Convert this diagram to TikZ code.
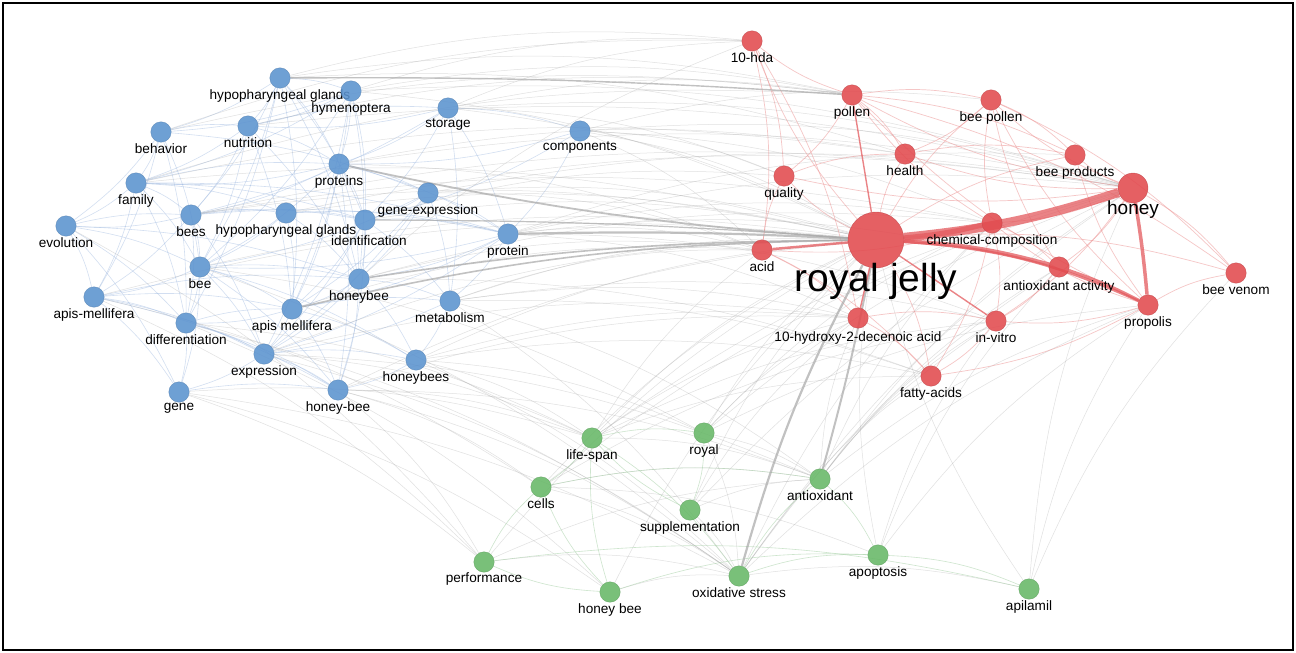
\documentclass[tikz,border=0pt]{standalone}
\usepackage{fontspec}
\setmainfont{Liberation Sans}
\usetikzlibrary{backgrounds}
\definecolor{nb}{HTML}{5B93CF}
\definecolor{nr}{HTML}{E24A4E}
\definecolor{ng}{HTML}{67B867}
\definecolor{eb}{HTML}{9DB8E0}
\definecolor{er}{HTML}{EC8E8E}
\definecolor{ert}{HTML}{E45A5E}
\definecolor{eg}{HTML}{A8A8A8}
\definecolor{egr}{HTML}{9CCB9C}
\begin{document}
\begin{tikzpicture}[x=1pt,y=-1pt,
  kw/.style={circle,inner sep=0pt,minimum size=20.5pt,fill opacity=0.88,draw opacity=0.6,line width=0.4pt},
  kb/.style={kw,fill=nb,draw=nb!80!black},
  kr/.style={kw,fill=nr,draw=nr!80!black},
  kg/.style={kw,fill=ng,draw=ng!80!black},
  lab/.style={font=\fontsize{13.6}{13.6}\selectfont,inner sep=0pt,text=black,text opacity=1,fill opacity=0},
  every label/.style={lab},
  label distance=0.5pt,
  ebl/.style={draw=eb,line width=0.6pt,draw opacity=0.45},
  erl/.style={draw=er,line width=0.7pt,draw opacity=0.5},
  egl/.style={draw=eg,line width=0.5pt,draw opacity=0.35},
  egg/.style={draw=egr,line width=0.6pt,draw opacity=0.5},
  thk/.style={line width=#1,draw opacity=0.7},
  thr/.style={draw=ert,line width=#1,draw opacity=0.75},
]
\useasboundingbox (0,0) rectangle (1296,653);
% blue cluster
\node[kb,label=below:hypopharyngeal glands] (hgA) at (280,78) {};
\node[kb,label=below:hymenoptera] (hym) at (351,91) {};
\node[kb,label=below:storage] (stor) at (448,108) {};
\node[kb,label=below:components] (comp) at (580,131) {};
\node[kb,label=below:behavior] (behav) at (161,132) {};
\node[kb,label=below:nutrition] (nutr) at (248,126) {};
\node[kb,label=below:proteins] (prots) at (339,164) {};
\node[kb,label=below:family] (fam) at (136,183) {};
\node[kb,label=below:gene-expression] (gexp) at (428,193) {};
\node[kb,label=below:bees] (bees) at (191,215) {};
\node[kb,label=below:hypopharyngeal glands] (hgB) at (286,213) {};
\node[kb,label={[label distance=5pt,xshift=4pt]below:identification}] (ident) at (365,220) {};
\node[kb,label=below:evolution] (evol) at (66,226) {};
\node[kb,label=below:protein] (prot) at (508,234) {};
\node[kb,label=below:bee] (bee) at (200,267) {};
\node[kb,label=below:honeybee] (hbee) at (359,279) {};
\node[kb,label=below:apis-mellifera] (amA) at (94,297) {};
\node[kb,label=below:apis mellifera] (amB) at (292,309) {};
\node[kb,label=below:metabolism] (metab) at (450,301) {};
\node[kb,label=below:differentiation] (diff) at (186,323) {};
\node[kb,label=below:expression] (expr) at (264,354) {};
\node[kb,label=below:honeybees] (hbees) at (416,360) {};
\node[kb,label=below:gene] (gene) at (179,392) {};
\node[kb,label=below:honey-bee] (hbh) at (338,390) {};
% red cluster
\node[kr,label=below:10-hda] (hda) at (752,41) {};
\node[kr,label=below:pollen] (pollen) at (852,95) {};
\node[kr,label=below:bee pollen] (bpol) at (991,100) {};
\node[kr,label=below:health] (health) at (905,154) {};
\node[kr,label=below:bee products] (bprod) at (1075,155) {};
\node[kr,label=below:quality] (qual) at (784,176) {};
\node[kr,minimum size=30pt] (honey) at (1133,188) {};
\node[lab,font=\fontsize{19}{19}\selectfont] (honeylab) at (1133,210) {honey};
\node[kr,label=below:chemical-composition] (chem) at (992,223) {};
\node[kr,minimum size=56pt] (rj) at (876,240) {};
\node[lab,font=\fontsize{39}{39}\selectfont] (rjlab) at (876,281) {royal jelly};
\node[kr,label=below:acid] (acid) at (762,250) {};
\node[kr,label={[label distance=3pt]below:antioxidant activity}] (aoa) at (1059,267) {};
\node[kr,label=below:bee venom] (bven) at (1236,273) {};
\node[kr,label=below:propolis] (prop) at (1148,305) {};
\node[kr,label={[label distance=3pt]below:10-hydroxy-2-decenoic acid}] (hda2) at (858,318) {};
\node[kr,label=below:in-vitro] (invit) at (996,321) {};
\node[kr,label=below:fatty-acids] (fatty) at (931,376) {};
% green cluster
\node[kg,label=below:life-span] (lspan) at (592,438) {};
\node[kg,label=below:royal] (royal) at (704,433) {};
\node[kg,label=below:antioxidant] (antiox) at (820,479) {};
\node[kg,label=below:cells] (cells) at (541,487) {};
\node[kg,label=below:supplementation] (suppl) at (690,510) {};
\node[kg,label=below:performance] (perf) at (484,562) {};
\node[kg,label=below:honey bee] (hb) at (610,592) {};
\node[kg,label=below:oxidative stress] (ox) at (739,576) {};
\node[kg,label=below:apoptosis] (apop) at (878,555) {};
\node[kg,label=below:apilamil] (apil) at (1029,589) {};

\begin{scope}[on background layer]
\fill[white] (0,0) rectangle (1296,653);
% blue internal
\foreach \a/\b in {hgA/hym,hgA/nutr,hgA/behav,hgA/bees,hgA/bee,hgA/ident,hgA/hbee,hgA/prots,hgA/amB,hgA/diff,
 hym/prots,hym/nutr,hym/ident,hym/bee,hym/hbee,hym/fam,hym/behav,hym/amB,hym/expr,
 stor/prots,stor/prot,stor/comp,stor/ident,stor/metab,stor/nutr,stor/bees,
 comp/prot,comp/prots,comp/ident,
 behav/nutr,behav/fam,behav/bee,behav/diff,behav/evol,behav/amA,behav/gexp,
 nutr/bees,nutr/prots,nutr/fam,nutr/bee,nutr/hbee,nutr/amB,nutr/stor,
 prots/gexp,prots/ident,prots/fam,prots/bees,prots/hbee,prots/prot,prots/bee,prots/amB,prots/hbh,
 fam/evol,fam/bees,fam/bee,fam/amA,fam/ident,fam/hgB,fam/diff,fam/prot,fam/prots,
 gexp/ident,gexp/prot,gexp/hbee,gexp/metab,gexp/bee,gexp/amB,gexp/expr,
 bees/hgB,bees/ident,bees/prot,bees/bee,bees/evol,bees/amA,bees/diff,bees/expr,
 hgB/ident,hgB/prot,hgB/bee,hgB/hbee,hgB/amB,
 ident/prot,ident/hbee,ident/amB,ident/metab,ident/expr,ident/hbh,
 evol/amA,evol/bee,evol/diff,evol/gene,evol/bees,evol/hbee,
 prot/hbee,prot/amB,prot/metab,prot/bee,prot/expr,
 bee/hbee,bee/amA,bee/diff,bee/expr,bee/amB,bee/gene,bee/hbees,bee/hbh,
 hbee/amB,hbee/metab,hbee/expr,hbee/hbees,hbee/hbh,
 amA/diff,amA/gene,amA/expr,amA/amB,amA/hbee,amA/hbh,
 amB/expr,amB/metab,amB/diff,amB/hbees,amB/hbh,
 metab/hbees,metab/expr,diff/expr,diff/gene,diff/hbh,diff/amB,
 expr/hbees,expr/hbh,expr/gene,hbees/hbh,gene/hbh}
 \draw[ebl] (\a) to[bend left=8] (\b);
% grey cross edges
\foreach \a/\b in {hym/pollen,hym/rj,stor/rj,stor/pollen,stor/honey,comp/rj,comp/honey,comp/chem,
 prots/honey,gexp/rj,prot/honey,prot/acid,ident/rj,hgB/rj,bees/rj,fam/rj,bee/rj,amA/rj,
 metab/rj,metab/antiox,metab/ox,expr/rj,hbees/rj,hbees/ox,hbh/rj,hbh/ox,gene/ox,diff/lspan,
 gene/lspan,hbh/lspan,hbh/cells,amA/cells,expr/lspan,hbees/lspan,hbees/royal,evol/perf,amA/perf,
 hbee/hda,hgA/hda,behav/hda,nutr/pollen,prots/health,prot/bprod,ident/qual,hgB/honey,bees/honey,
 fam/health,prot/hda2,metab/hda2,hbee/fatty,expr/antiox,gene/hb,diff/hb,bee/royal,bee/ox,
 lspan/rj,lspan/antiox,royal/rj,royal/antiox,royal/ox,cells/rj,cells/antiox,cells/ox,suppl/rj,
 suppl/ox,suppl/antiox,perf/ox,perf/rj,perf/antiox,hb/ox,hb/rj,ox/apil,ox/prop,ox/aoa,ox/invit,
 ox/chem,ox/honey,antiox/aoa,antiox/invit,antiox/prop,antiox/honey,antiox/chem,antiox/fatty,
 antiox/hda2,apop/rj,apop/invit,apop/prop,apop/aoa,apil/prop,apil/bven,apil/honey,apil/rj,
 lspan/hda2,royal/hda2,cells/invit,comp/bpol,stor/hda,hym/hda,hgA/pollen,
 comp/acid,comp/qual,stor/qual,prots/acid,gexp/acid,gexp/honey,prot/chem,prot/aoa,prot/invit,
 hbee/acid,hbee/chem,amB/acid,metab/acid,metab/invit,metab/fatty,hbees/hda2,hbees/fatty,
 expr/hda2,hbh/hda2,hbh/antiox,lspan/acid,lspan/honey,royal/honey,royal/chem,cells/honey,
 suppl/honey,suppl/hda2,lspan/fatty,hgA/health,hym/honey,nutr/honey,behav/pollen,fam/pollen,
 bees/chem,expr/ox,diff/ox,gene/perf,hbh/perf,cells/apop,lspan/invit,royal/prop}
 \draw[egl] (\a) to[bend left=10] (\b);
% green internal
\foreach \a/\b in {ox/antiox,ox/apop,antiox/apop,apop/apil,hb/lspan,hb/cells,hb/perf,perf/cells,
 lspan/cells,lspan/ox,royal/suppl,suppl/lspan,cells/antiox,perf/apil,hb/apop,lspan/royal}
 \draw[egg] (\a) to[bend left=10] (\b);
% red internal
\foreach \a/\b in {rj/fatty,rj/qual,rj/health,rj/bpol,rj/bprod,rj/hda,rj/bven,
 honey/chem,honey/bprod,honey/bpol,honey/pollen,honey/health,honey/aoa,honey/bven,honey/qual,
 honey/invit,prop/chem,prop/invit,prop/bven,prop/bprod,prop/bpol,prop/pollen,prop/fatty,
 chem/aoa,chem/invit,chem/pollen,chem/bpol,chem/acid,chem/fatty,aoa/invit,aoa/bpol,
 pollen/bpol,pollen/health,pollen/hda,pollen/qual,pollen/bprod,bpol/bprod,bpol/health,
 bpol/bven,hda/acid,hda/qual,hda/hda2,acid/hda2,acid/fatty,acid/qual,hda2/fatty,hda2/invit,
 invit/fatty,health/bprod,qual/health,pollen/bven}
 \draw[erl] (\a) to[bend left=10] (\b);
% stronger links
\draw[draw=eg,thk=2.2pt] (prot) to[bend left=2] (rj);
\draw[draw=eg,thk=1.8pt] (prots) to[bend right=4] (rj);
\draw[draw=eg,thk=1.6pt] (hbee) to[bend left=4] (rj);
\draw[draw=eg,thk=1.6pt] (amB) to[bend left=6] (rj);
\draw[draw=eg,thk=1.4pt] (hgA) to[bend left=2] (pollen);
\draw[draw=eg,thk=2.2pt] (ox) to[bend left=6] (rj);
\draw[draw=eg,thk=2pt] (antiox) to[bend right=2] (rj);
\draw[draw=eg,thk=1.2pt] (ident) to[bend left=2] (rj);
\draw[thr=9pt] (rj) to[bend right=6] (honey);
\draw[thr=5pt] (rj) to[bend right=4] (chem);
\draw[thr=4pt] (rj) to[bend left=6] (aoa);
\draw[thr=3pt] (aoa) to[bend left=4] (prop);
\draw[thr=2.5pt] (rj) to[bend left=10] (prop);
\draw[thr=3.5pt] (honey) to[bend left=2] (prop);
\draw[thr=2.5pt] (rj) -- (acid);
\draw[thr=1.4pt] (rj) -- (pollen);
\draw[thr=1.4pt] (rj) -- (invit);
\draw[thr=1.4pt] (rj) -- (hda2);
\end{scope}
\draw[line width=1.6pt] (3,3) rectangle (1293,650);
\end{tikzpicture}
\end{document}
